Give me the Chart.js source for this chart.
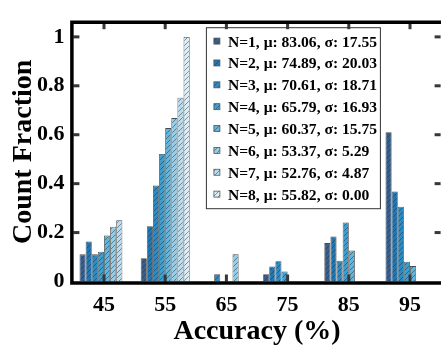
<!DOCTYPE html>
<html>
<head>
<meta charset="utf-8">
<script src="https://cdn.jsdelivr.net/npm/chart.js@4.4.0/dist/chart.umd.min.js"></script>
<style>
  html, body { margin: 0; padding: 0; background: #fff; overflow: hidden; }
  #wrap { width: 441px; height: 347px; overflow: hidden; }
  canvas { display: block; }
</style>
</head>
<body>
<div id="wrap"><canvas id="chart" width="446" height="347" style="width:446px;height:347px"></canvas></div>
<script>
/* ---------- data ---------- */
const binLabels = ['45', '55', '65', '75', '85', '95'];
const seriesLabels = [
    'N=1, μ: 83.06, σ: 17.55',
    'N=2, μ: 74.89, σ: 20.03',
    'N=3, μ: 70.61, σ: 18.71',
    'N=4, μ: 65.79, σ: 16.93',
    'N=5, μ: 60.37, σ: 15.75',
    'N=6, μ: 53.37, σ: 5.29',
    'N=7, μ: 52.76, σ: 4.87',
    'N=8, μ: 55.82, σ: 0.00'
];
const n1 = [0.111, 0.095, 0, 0.030, 0.157, 0.610];
const n2 = [0.164, 0.226, 0, 0.061, 0.184, 0.368];
const n3 = [0.111, 0.392, 0.030, 0.083, 0.085, 0.306];
const n4 = [0.122, 0.521, 0, 0.041, 0.241, 0.081];
const n5 = [0.188, 0.627, 0, 0, 0.127, 0.063];
const n6 = [0.224, 0.668, 0.111, 0, 0, 0];
const n7 = [0.250, 0.751, 0, 0, 0, 0];
const n8 = [0, 1.0, 0, 0, 0, 0];
const seriesValues = [n1, n2, n3, n4, n5, n6, n7, n8];
const seriesColors = ['#365f8e', '#2176b4', '#2b8bc5', '#3c9fd2', '#62b5dc', '#93cde8', '#b9ddef', '#dbeef8'];
const yTicks = [0, 0.2, 0.4, 0.6, 0.8, 1];
const yTickLabels = ['0', '0.2', '0.4', '0.6', '0.8', '1'];

const FONT = '"Liberation Serif", "Times New Roman", serif';
const canvas = document.getElementById('chart');
const ctx = canvas.getContext('2d');

// hatched fill "/" over a base colour
function hatch(color) {
    const s = 5;
    const c = document.createElement('canvas');
    c.width = s; c.height = s;
    const g = c.getContext('2d');
    g.fillStyle = color;
    g.fillRect(0, 0, s, s);
    g.strokeStyle = 'rgba(45,45,45,0.5)';
    g.lineWidth = 1;
    g.beginPath();
    g.moveTo(0, s); g.lineTo(s, 0);
    g.moveTo(-1, 1); g.lineTo(1, -1);
    g.moveTo(s - 1, s + 1); g.lineTo(s + 1, s - 1);
    g.stroke();
    return ctx.createPattern(c, 'repeat');
}

const datasets = seriesValues.map((vals, i) => ({
    label: seriesLabels[i],
    data: vals,
    backgroundColor: hatch(seriesColors[i]),
    borderColor: '#4a4a4a',
    borderWidth: 0.8,
    barPercentage: 1,
    categoryPercentage: 0.8
}));

// legend box inside plot
const legendBox = {
    id: 'legendBox',
    afterDatasetsDraw(chart) {
        const c = chart.ctx, a = chart.chartArea;
        const x0 = a.left + 132.5, y0 = a.top + 5, w = 174, h = 181;
        c.save();
        c.fillStyle = '#fff';
        c.fillRect(x0, y0, w, h);
        c.strokeStyle = '#333';
        c.lineWidth = 1;
        c.strokeRect(x0 + 0.5, y0 + 0.5, w, h);
        c.font = 'bold 15.6px ' + FONT;
        c.textBaseline = 'middle';
        chart.data.datasets.forEach((ds, i) => {
            const cy = y0 + 15.4 + i * 21.86;
            c.fillStyle = ds.backgroundColor;
            c.fillRect(x0 + 8, cy - 4.5, 6, 6);
            c.strokeStyle = '#555';
            c.lineWidth = 0.8;
            c.strokeRect(x0 + 8, cy - 4.5, 6, 6);
            c.fillStyle = '#000';
            c.fillText(ds.label, x0 + 22, cy);
        });
        c.restore();
    }
};

// box frame + inward ticks
const frame = {
    id: 'frame',
    afterDraw(chart) {
        const c = chart.ctx, a = chart.chartArea;
        const xs = chart.scales.x, ys = chart.scales.y;
        c.save();
        c.fillStyle = '#383838';
        xs.ticks.forEach((t, i) => {
            const px = xs.getPixelForTick(i);
            c.fillRect(px - 1.5, a.top, 3, 7);
            c.fillRect(px - 1.5, a.bottom - 7, 3, 7);
        });
        ys.ticks.forEach(t => {
            if (t.value === 0) return;
            const py = ys.getPixelForValue(t.value);
            c.fillRect(a.left, py - 1.5, 6, 3);
            c.fillRect(a.right - 6, py - 1.5, 6, 3);
        });
        c.strokeStyle = '#000';
        c.lineWidth = 3.5;
        c.beginPath();
        c.moveTo(a.right + 20, a.top);
        c.lineTo(a.left - 1.5, a.top);
        c.lineTo(a.left - 1.5, a.bottom + 1.5);
        c.lineTo(a.right + 20, a.bottom + 1.5);
        c.stroke();
        c.restore();
    }
};

new Chart(ctx, {
    type: 'bar',
    data: { labels: binLabels, datasets: datasets },
    options: {
        responsive: false,
        animation: false,
        layout: { padding: { left: 0, top: 13.5, right: 5.4, bottom: 0 } },
        plugins: { legend: { display: false }, tooltip: { enabled: false } },
        scales: {
            x: {
                offset: true,
                grid: { display: false, drawTicks: false },
                border: { display: false },
                ticks: { color: '#000', padding: 11, font: { family: FONT, size: 22, weight: 'bold' } },
                title: {
                    display: true, text: 'Accuracy (%)', color: '#000',
                    font: { family: FONT, size: 28, weight: 'bold' },
                    padding: { top: 0, bottom: -2 }
                },
                afterFit(scale) { scale.height = 65.5; }
            },
            y: {
                min: 0, max: 1.06,
                grid: { display: false, drawTicks: false },
                border: { display: false },
                afterBuildTicks(scale) { scale.ticks = yTicks.map(v => ({ value: v })); },
                ticks: {
                    color: '#000', padding: 9,
                    font: { family: FONT, size: 22, weight: 'bold' },
                    callback: (v, i) => yTickLabels[i]
                },
                title: {
                    display: true, text: 'Count Fraction', color: '#000',
                    font: { family: FONT, size: 28, weight: 'bold' },
                    padding: { top: 6.7, bottom: 0 }
                },
                afterFit(scale) { scale.width = 73.4; }
            }
        }
    },
    plugins: [legendBox, frame]
});
</script>
</body>
</html>
